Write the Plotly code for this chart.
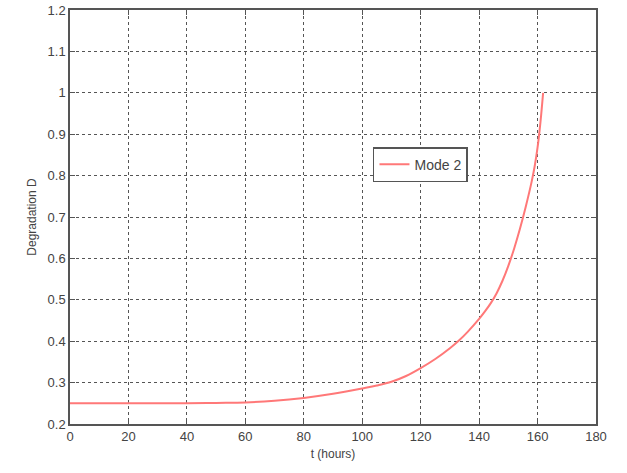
import plotly.graph_objects as go

t_hours = [0, 20, 40, 50, 60, 70, 80, 90, 100, 105, 110, 115, 120, 125, 130, 133, 136, 140, 142, 144, 146, 148, 150, 152, 154, 156, 158, 159, 160, 161, 161.9]
degradation = [0.25, 0.25, 0.25, 0.251, 0.252, 0.256, 0.263, 0.273, 0.286, 0.293, 0.302, 0.316, 0.335, 0.357, 0.383, 0.401, 0.422, 0.454, 0.472, 0.492, 0.516, 0.546, 0.582, 0.624, 0.672, 0.726, 0.786, 0.822, 0.868, 0.93, 1.0]

x_ticks = [0, 20, 40, 60, 80, 100, 120, 140, 160, 180]
y_ticks = [0.2, 0.3, 0.4, 0.5, 0.6, 0.7, 0.8, 0.9, 1.0, 1.1, 1.2]
y_tick_labels = ["0.2", "0.3", "0.4", "0.5", "0.6", "0.7", "0.8", "0.9", "1", "1.1", "1.2"]

FONT = "Liberation Sans, Arial"

fig = go.Figure()
fig.add_trace(go.Scatter(
    x=t_hours, y=degradation, mode="lines", name="Mode 2",
    line=dict(color="rgb(255,120,120)", width=2, shape="spline", smoothing=1.0),
))

axis_common = dict(
    showline=True, linecolor="#555", linewidth=1.5, mirror="ticks",
    ticks="inside", ticklen=5, tickcolor="#555",
    showgrid=True, gridcolor="#555", griddash="dot", gridwidth=1,
    zeroline=False, automargin=False,
    tickfont=dict(family=FONT, size=13, color="#444"),
)

fig.update_xaxes(range=[0, 180], tickvals=x_ticks,
                 title=dict(text="t (hours)", font=dict(family=FONT, size=12, color="#444"), standoff=6),
                 **axis_common)
fig.update_yaxes(range=[0.2, 1.2], tickvals=y_ticks, ticktext=y_tick_labels,
                 title=dict(text="Degradation D", font=dict(family=FONT, size=12, color="#444"), standoff=8),
                 **axis_common)

fig.update_layout(
    width=627, height=473,
    margin=dict(l=70, r=31, t=10, b=49),
    paper_bgcolor="white", plot_bgcolor="white",
    showlegend=True,
    legend=dict(x=0.576, y=0.669, xanchor="left", yanchor="top",
                bgcolor="white", bordercolor="#555", borderwidth=1.5,
                font=dict(family=FONT, size=14, color="#444")),
)

fig.write_html("out.html", config={"displayModeBar": False},
               post_script="document.body.style.margin='0';document.body.style.overflow='hidden';")
